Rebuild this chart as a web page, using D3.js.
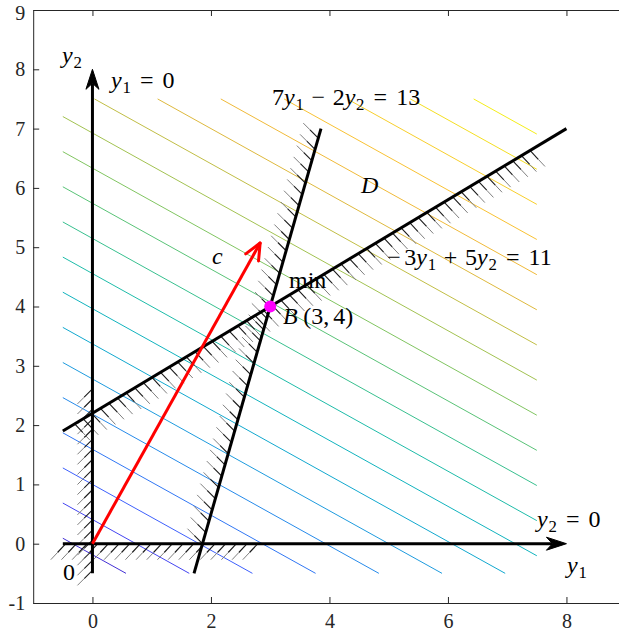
<!DOCTYPE html>
<html><head><meta charset="utf-8">
<script src="https://cdn.jsdelivr.net/npm/d3@7"></script>
<style>body{margin:0;background:#fff} svg{display:block}</style>
</head><body>
<script>
// ---------- data ----------
const xDomain = [-1, 9];
const yDomain = [-1, 9];
const xTicks = [0, 2, 4, 6, 8];
const yTicks = [-1, 0, 1, 2, 3, 4, 5, 6, 7, 8, 9];
const objective = [5, 9];                       // c = (c1, c2)
const contourLevels = [-1.67, 3.67, 9, 14.33, 19.67, 25, 30.33, 35.67, 41, 46.33,
                       51.67, 57, 62.33, 67.67, 73, 78.33, 83.67, 89, 94.33, 99.67];
const levelRange = [-7, 105];
const gridBox = [-0.5, 7.5];
const lineA = {a: 7, b: -2, rhs: 13, y2From: -0.5, y2To: 7};     // 7y1 - 2y2 = 13
const lineB = {a: -3, b: 5, rhs: 11, y1From: -0.5, y1To: 8};     // -3y1 + 5y2 = 11
const axisY1 = [[0, -0.5], [0, 8]];
const axisY2 = [[-0.5, 0], [8, 0]];
const arrowC = [[0, 0], [2.83, 5.07]];
const pointB = [3, 4];
const hatchY1 = [-0.45, 2.65, 0.17];     // along y1=0 : y2 from, to, step
const hatchY2 = [-0.45, 2.95, 0.18];     // along y2=0 : y1 from, to, step
const hatchA = [0.0, 7.0, 0.19];         // along 7y1-2y2=13 : y2
const hatchB = [-0.3, 7.45, 0.145];      // along -3y1+5y2=11 : y1
const parulaStops = ["#3e26a8","#4737eb","#3e60fc","#2a82f0","#1e9bde","#0aafc8","#1ebca9",
                     "#45c282","#81c561","#b3c049","#deb93d","#f9bb37","#f8cf2b","#f3e71d","#f9fb15"];

// ---------- setup ----------
const W = 619, H = 639;
const svg = d3.select("body").append("svg").attr("width", W).attr("height", H);
const x = d3.scaleLinear().domain(xDomain).range([33.2, 625.7]);
const y = d3.scaleLinear().domain(yDomain).range([603, 10]);
const parula = d3.scaleLinear()
  .domain(parulaStops.map((d, i) => i / (parulaStops.length - 1)))
  .range(parulaStops).interpolate(d3.interpolateRgb);
const tColor = d3.scaleLinear().domain(levelRange).range([0, 1]);

// ---------- axes box ----------
const axG = svg.append("g");
const serif = "Liberation Serif, Times New Roman, Times, serif";
function styleAxis(g) {
  g.attr("font-family", serif);
  g.select(".domain").attr("stroke", "#262626").attr("stroke-width", 1);
  g.selectAll(".tick line").attr("stroke", "#262626").attr("stroke-width", 1);
  g.selectAll(".tick text").attr("font-family", serif).attr("font-size", 20).attr("fill", "#262626");
}
const fmt = d => String(d);
axG.append("g").attr("transform", `translate(0,${y(-1)})`)
  .call(d3.axisBottom(x).tickValues(xTicks).tickSizeInner(-6).tickSizeOuter(0).tickPadding(11).tickFormat(fmt))
  .call(styleAxis);
axG.append("g").attr("transform", `translate(0,${y(9)})`)
  .call(d3.axisTop(x).tickValues(xTicks).tickSizeInner(-6).tickSizeOuter(0).tickFormat(""))
  .call(styleAxis);
const yAx = axG.append("g").attr("transform", `translate(${x(-1)},0)`)
  .call(d3.axisLeft(y).tickValues(yTicks).tickSizeInner(-6).tickSizeOuter(0).tickPadding(8).tickFormat(fmt))
  .call(styleAxis);
yAx.selectAll(".tick text").filter(d => d === 9).attr("dy", "0.45em");
axG.append("g").attr("transform", `translate(${x(9)},0)`)
  .call(d3.axisRight(y).tickValues(yTicks).tickSizeInner(-6).tickSizeOuter(0).tickFormat(""))
  .call(styleAxis);

// ---------- contour lines ----------
function clipLine(a, b, f, lo, hi) {
  const pts = [];
  [lo, hi].forEach(v => {
    const y2 = (f - a * v) / b; if (y2 >= lo - 1e-9 && y2 <= hi + 1e-9) pts.push([v, y2]);
    const y1 = (f - b * v) / a; if (y1 >= lo - 1e-9 && y1 <= hi + 1e-9) pts.push([y1, v]);
  });
  pts.sort((p, q) => p[0] - q[0]);
  return [pts[0], pts[pts.length - 1]];
}
const cG = svg.append("g");
contourLevels.forEach(f => {
  const [p, q] = clipLine(objective[0], objective[1], f, gridBox[0], gridBox[1]);
  cG.append("line").attr("x1", x(p[0])).attr("y1", y(p[1])).attr("x2", x(q[0])).attr("y2", y(q[1]))
    .attr("stroke", parula(tColor(f))).attr("stroke-width", 1);
});

// ---------- hatching ----------
const hG = svg.append("g");
function hatch(pts, vx, vy) {
  pts.forEach(p => {
    const px = x(p[0]), py = y(p[1]);
    const mx = px + vx * 0.55, my = py + vy * 0.55;
    hG.append("line").attr("x1", px).attr("y1", py).attr("x2", mx).attr("y2", my)
      .attr("stroke", "#1a1a1a").attr("stroke-width", 1.1);
    hG.append("line").attr("x1", mx).attr("y1", my).attr("x2", px + vx).attr("y2", py + vy)
      .attr("stroke", "#808080").attr("stroke-width", 1);
  });
}
const rng = r => d3.range(r[0], r[1] + 1e-9, r[2]);
hatch(rng(hatchY1).map(t => [0, t]), -15, 15);
hatch(rng(hatchY2).map(t => [t, 0]), -15, 16);
hatch(rng(hatchA).map(t => [(lineA.rhs - lineA.b * t) / lineA.a, t]), -15, -15);
hatch(rng(hatchB).map(t => [t, (lineB.rhs - lineB.a * t) / lineB.b]), 15, 16);

// ---------- constraint lines ----------
const lG = svg.append("g");
function seg(p, q, color, w) {
  lG.append("line").attr("x1", x(p[0])).attr("y1", y(p[1])).attr("x2", x(q[0])).attr("y2", y(q[1]))
    .attr("stroke", color).attr("stroke-width", w).attr("stroke-linecap", "butt");
}
seg([(lineA.rhs - lineA.b * lineA.y2From) / lineA.a, lineA.y2From],
    [(lineA.rhs - lineA.b * lineA.y2To) / lineA.a, lineA.y2To], "#000", 3);
seg([lineB.y1From, (lineB.rhs - lineB.a * lineB.y1From) / lineB.b],
    [lineB.y1To, (lineB.rhs - lineB.a * lineB.y1To) / lineB.b], "#000", 3);

// axis arrows (filled stealth heads)
function axisArrow(p, q) {
  const x1 = x(p[0]), y1 = y(p[1]), x2 = x(q[0]), y2 = y(q[1]);
  const ang = Math.atan2(y2 - y1, x2 - x1);
  const L = 20, hw = 6.5, notch = 14;
  const ux = Math.cos(ang), uy = Math.sin(ang), nx = -uy, ny = ux;
  lG.append("line").attr("x1", x1).attr("y1", y1).attr("x2", x2 - ux * notch).attr("y2", y2 - uy * notch)
    .attr("stroke", "#000").attr("stroke-width", 3);
  const path = `M${x2},${y2} L${x2 - ux * L + nx * hw},${y2 - uy * L + ny * hw} L${x2 - ux * notch},${y2 - uy * notch} L${x2 - ux * L - nx * hw},${y2 - uy * L - ny * hw} Z`;
  lG.append("path").attr("d", path).attr("fill", "#000").attr("stroke", "#000").attr("stroke-width", 1);
}
axisArrow(axisY1[0], axisY1[1]);
axisArrow(axisY2[0], axisY2[1]);

// red arrow c
(function () {
  const [p, q] = arrowC;
  const x1 = x(p[0]), y1 = y(p[1]), x2 = x(q[0]), y2 = y(q[1]);
  const ang = Math.atan2(y2 - y1, x2 - x1);
  lG.append("line").attr("x1", x1).attr("y1", y1).attr("x2", x2).attr("y2", y2)
    .attr("stroke", "#ff0000").attr("stroke-width", 3);
  const L = 18, spread = 0.42;
  [ang + Math.PI - spread, ang + Math.PI + spread].forEach(a => {
    lG.append("line").attr("x1", x2).attr("y1", y2)
      .attr("x2", x2 + L * Math.cos(a)).attr("y2", y2 + L * Math.sin(a))
      .attr("stroke", "#ff0000").attr("stroke-width", 3).attr("stroke-linecap", "round");
  });
})();

// point B
lG.append("circle").attr("cx", x(pointB[0])).attr("cy", y(pointB[1])).attr("r", 6).attr("fill", "#ff00ff");

// ---------- math labels ----------
const tG = svg.append("g");
const FS = 24;
// kind: 'n' normal, 'i' italic, 's' subscript, 'b' binop, 'r' relation, 'u' unary op, 'sp' space(em)
function math(x0, y0, parts, fs) {
  fs = fs || FS;
  let cx = x0;
  parts.forEach(([t, k]) => {
    if (k === "sp") { cx += t * fs; return; }
    let size = fs, dy = 0, style = "normal", padL = 0, padR = 0;
    if (k === "i") style = "italic";
    if (k === "s") { size = fs * 0.7; dy = fs * 0.2; }
    if (k === "b") { padL = padR = 0.32 * fs; }
    if (k === "r") { padL = padR = 0.38 * fs; }
    if (k === "u") { padL = 0.05 * fs; padR = 0.15 * fs; }
    cx += padL;
    const el = tG.append("text").attr("x", cx).attr("y", y0 + dy).text(t)
      .attr("font-family", serif).attr("font-size", size).attr("font-style", style).attr("fill", "#000");
    cx += el.node().getComputedTextLength() + padR;
    if (k === "i") cx += 0.03 * fs;
  });
  return cx;
}
math(62, 63, [["y", "i"], ["2", "s"]]);
math(111, 88, [["y", "i"], ["1", "s"], ["=", "r"], ["0", "n"]]);
math(272, 105, [["7", "n"], ["y", "i"], ["1", "s"], ["−", "b"], ["2", "n"], ["y", "i"], ["2", "s"], ["=", "r"], ["13", "n"]]);
math(361, 193, [["D", "i"]]);
math(212, 264, [["c", "i"]]);
math(289, 288, [["min", "n"]]);
math(283, 324, [["B", "i"], [0.2, "sp"], ["(3,", "n"], [0.17, "sp"], ["4)", "n"]]);
math(386, 265, [["−", "u"], ["3", "n"], ["y", "i"], ["1", "s"], ["+", "b"], ["5", "n"], ["y", "i"], ["2", "s"], ["=", "r"], ["11", "n"]]);
math(537, 527, [["y", "i"], ["2", "s"], ["=", "r"], ["0", "n"]]);
math(567, 573, [["y", "i"], ["1", "s"]]);
math(63, 580, [["0", "n"]]);
</script>
</body></html>
